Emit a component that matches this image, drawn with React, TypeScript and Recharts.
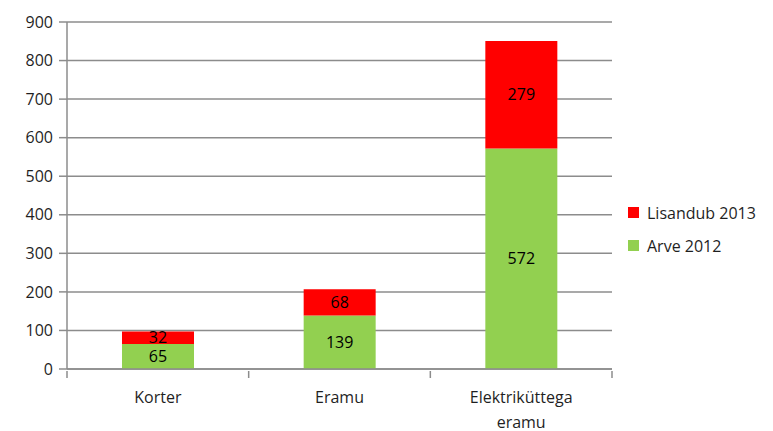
import React from "react";
import {
  BarChart,
  Bar,
  XAxis,
  YAxis,
  CartesianGrid,
  LabelList,
} from "recharts";

const categories = ["Korter", "Eramu", "Elektriküttega eramu"];
const arve2012 = [65, 139, 572];
const lisandub2013 = [32, 68, 279];
const yTicks = [0, 100, 200, 300, 400, 500, 600, 700, 800, 900];

const data = categories.map((name, i) => ({
  name,
  arve: arve2012[i],
  lisa: lisandub2013[i],
}));

const FONT = "'Open Sans', sans-serif";
const TEXT = "#1f1f1f";
const GRID = "#8c8c8c";

const CategoryTick = (props: any) => {
  const { x, y, payload, width, index } = props;
  const half = width / categories.length / 2;
  const words: string[] = String(payload.value).split(" ");
  // long labels go on one line per word
  const lines = payload.value.length > 12 ? words : [payload.value];
  const axisY = y - 6;
  return (
    <g>
      {/* tick marks sit between the categories, like Excel */}
      <line
        x1={x - half}
        x2={x - half}
        y1={axisY}
        y2={axisY + 7}
        stroke={GRID}
        strokeWidth={1.5}
      />
      {index === categories.length - 1 && (
        <line
          x1={x + half}
          x2={x + half}
          y1={axisY}
          y2={axisY + 7}
          stroke={GRID}
          strokeWidth={1.5}
        />
      )}
      <text
        x={x}
        y={y + 26}
        textAnchor="middle"
        fontFamily={FONT}
        fontSize={16}
        fill={TEXT}
      >
        {lines.map((l: string, i: number) => (
          <tspan key={i} x={x} dy={i === 0 ? 0 : 25}>
            {l}
          </tspan>
        ))}
      </text>
    </g>
  );
};

const SideLegend = () => {
  const items = [
    { label: "Lisandub 2013", color: "#ff0000" },
    { label: "Arve 2012", color: "#92d050" },
  ];
  return (
    <div
      style={{
        position: "absolute",
        left: 628,
        top: 196,
        fontFamily: FONT,
        fontSize: 16,
        color: TEXT,
      }}
    >
      {items.map((it) => (
        <div
          key={it.label}
          style={{ display: "flex", alignItems: "center", height: 33 }}
        >
          <span
            style={{
              width: 11,
              height: 11,
              background: it.color,
              marginRight: 8,
              display: "inline-block",
            }}
          />
          <span>{it.label}</span>
        </div>
      ))}
    </div>
  );
};

const App = () => {
  return (
    <div
      style={{
        position: "absolute",
        left: 0,
        top: 0,
        width: 773,
        height: 431,
        background: "#fff",
      }}
    >
      <BarChart
        width={773}
        height={431}
        data={data}
        margin={{ top: 22, right: 161, left: 0, bottom: 0 }}
        barSize={72}
      >
        <CartesianGrid vertical={false} stroke={GRID} strokeWidth={1.5} />
        <XAxis
          dataKey="name"
          height={62}
          stroke={GRID}
          strokeWidth={1.5}
          tickLine={false}
          tickMargin={2}
          tick={<CategoryTick />}
          interval={0}
        />
        <YAxis
          width={67}
          domain={[0, 900]}
          ticks={yTicks}
          stroke={GRID}
          strokeWidth={1.5}
          tickSize={8}
          tickMargin={6}
          tick={{ fontFamily: FONT, fontSize: 16, fill: TEXT }}
        />
        <Bar dataKey="arve" stackId="a" fill="#92d050" isAnimationActive={false}>
          <LabelList
            dataKey="arve"
            position="center"
            fill="#000"
            fontFamily={FONT}
            fontSize={16}
          />
        </Bar>
        <Bar dataKey="lisa" stackId="a" fill="#ff0000" isAnimationActive={false}>
          <LabelList
            dataKey="lisa"
            position="center"
            fill="#000"
            fontFamily={FONT}
            fontSize={16}
          />
        </Bar>
      </BarChart>
      <SideLegend />
    </div>
  );
};

export default App;
